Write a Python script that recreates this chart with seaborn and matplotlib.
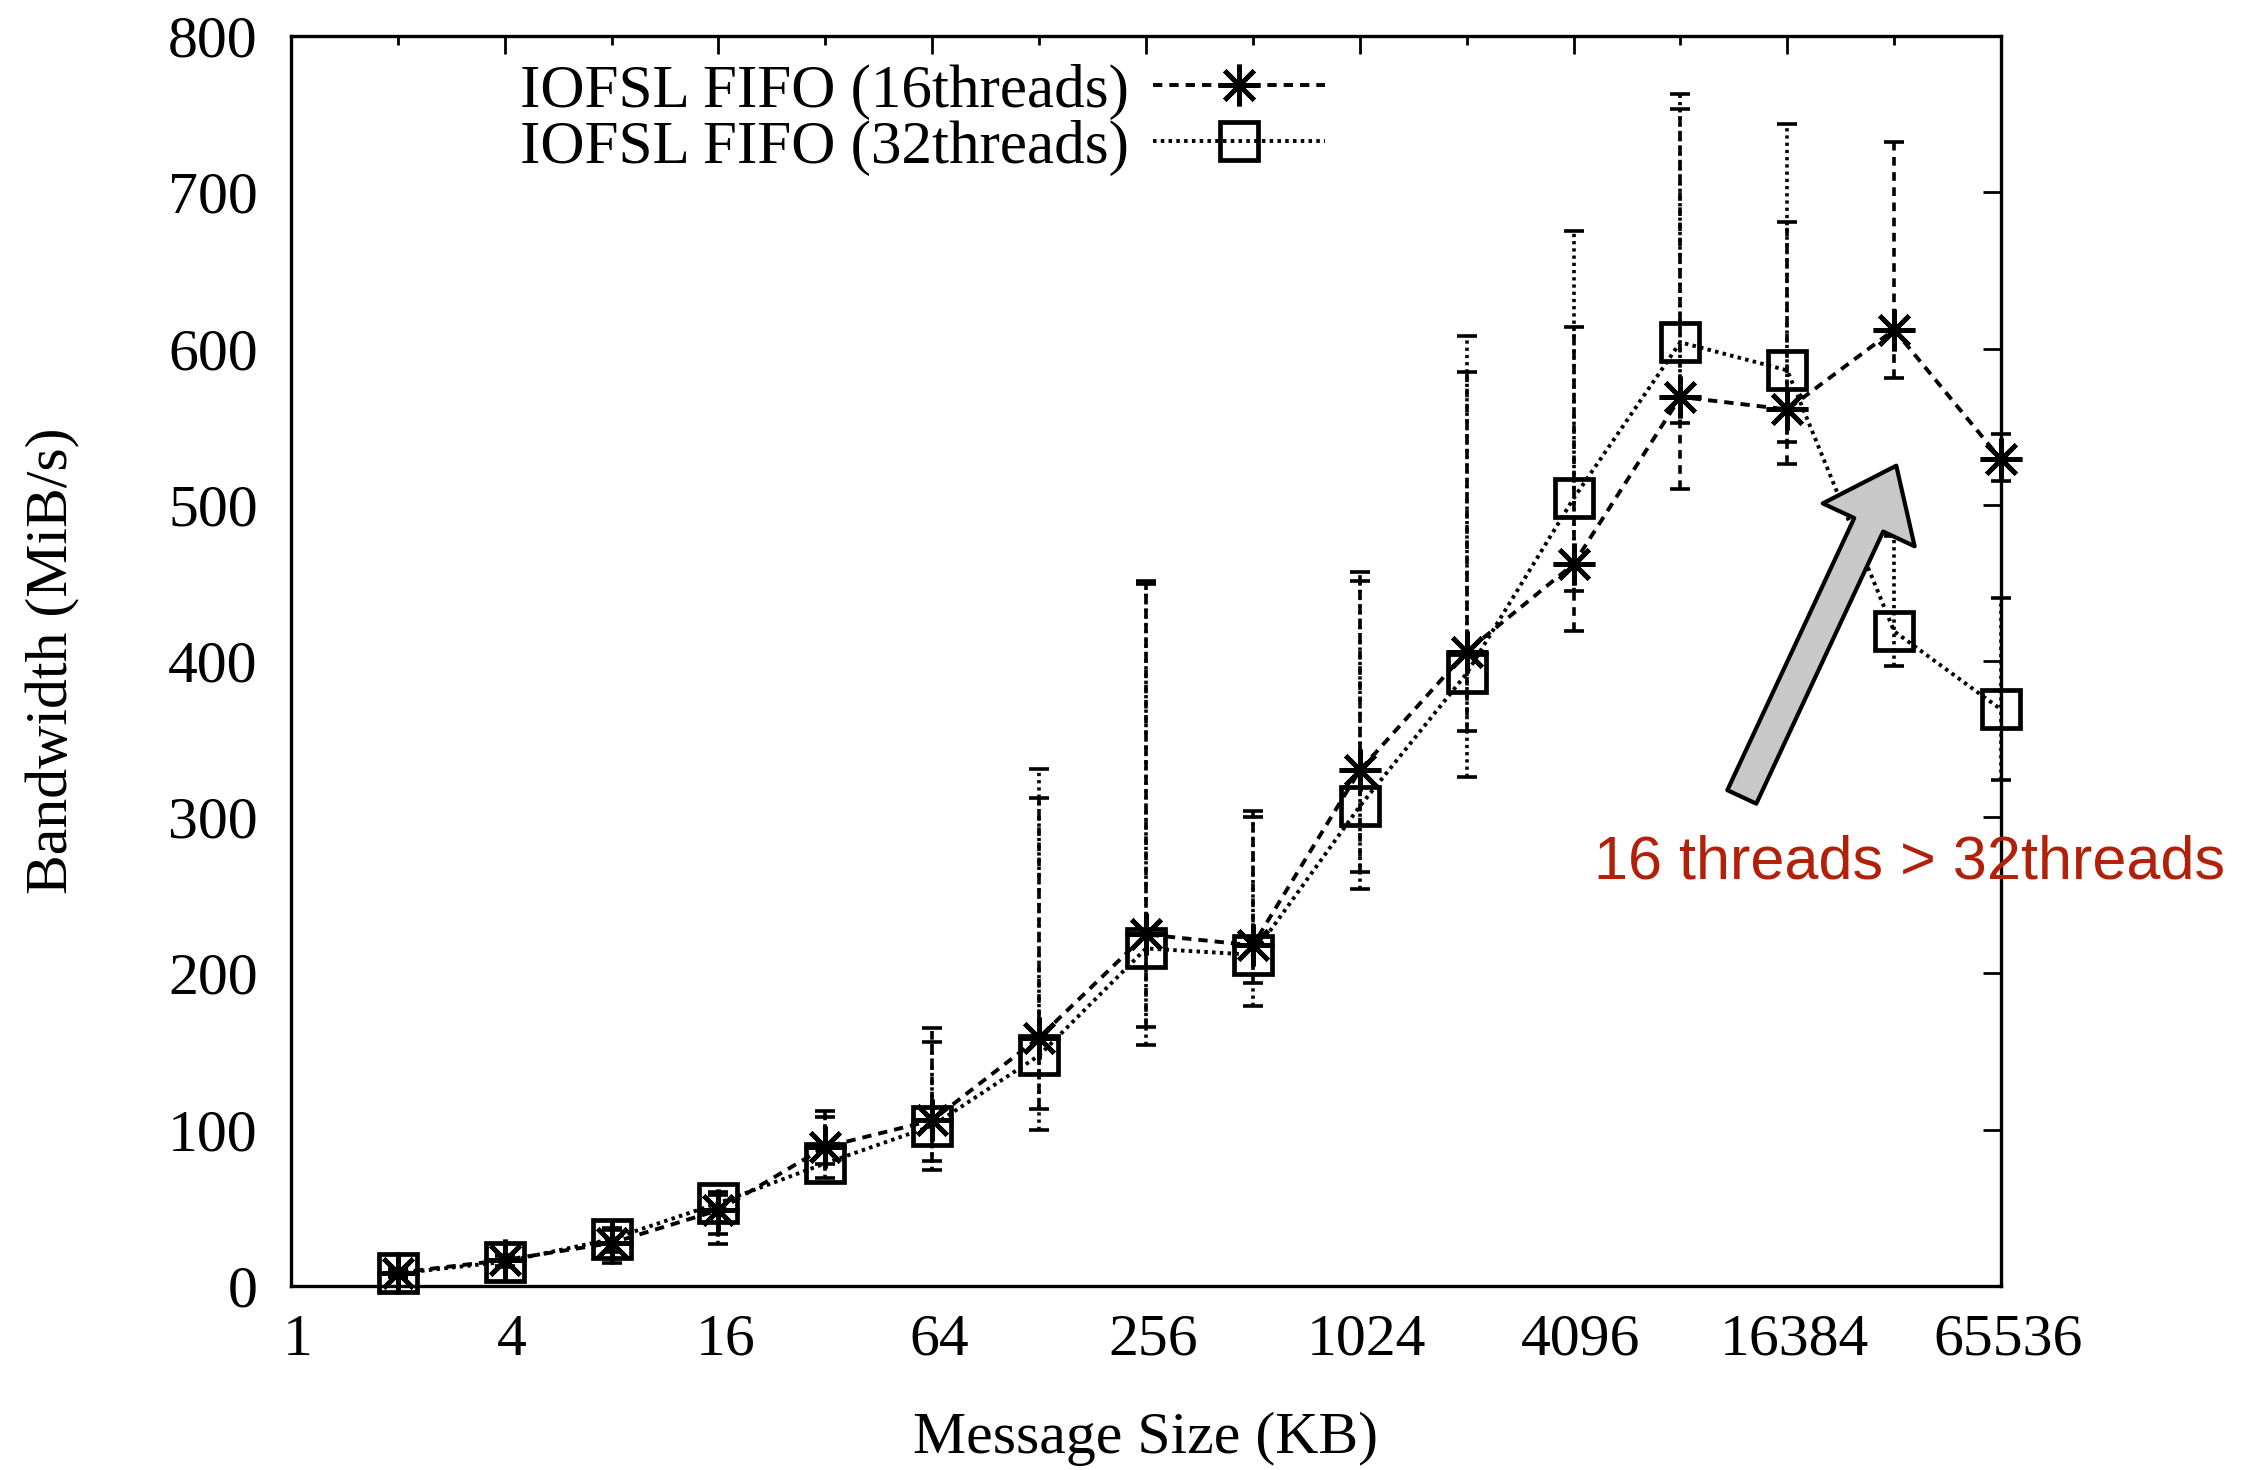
import numpy as np
import matplotlib
matplotlib.use("Agg")
import matplotlib.pyplot as plt
import matplotlib.ticker as mticker
import matplotlib.transforms as mtrans
from matplotlib.lines import Line2D
import seaborn as sns

# message sizes (KB) and measured bandwidth (MiB/s)
sizes = [2, 4, 8, 16, 32, 64, 128, 256, 512, 1024, 2048, 4096, 8192, 16384, 32768, 65536]
bw16 = [8.5, 16.6, 27.5, 48.5, 89, 106, 159, 225, 218, 330, 406, 462, 569, 561, 612, 529]
bw32 = [8, 15.5, 30, 53, 78.5, 102.5, 147.5, 216, 212, 307, 392, 504, 604, 586, 419, 369]

# min / max of the runs
lo16 = [6, 13, 22, 33, 78, 80, 113, 166, 194, 265, 355, 419, 510, 526, 581, 515]
hi16 = [11, 20, 37, 60, 112, 165, 312, 451, 304, 457, 585, 614, 753, 681, 732, 545]
lo32 = [6, 12, 15, 27, 69, 74, 100, 154, 179, 254, 326, 445, 552, 540, 397, 324]
hi32 = [10, 19, 36, 58, 108, 156, 331, 449, 300, 451, 608, 675, 763, 744, 480, 440]

labels = ["IOFSL FIFO (16threads)", "IOFSL FIFO (32threads)"]
xticks = [1, 4, 16, 64, 256, 1024, 4096, 16384, 65536]
yticks = list(range(0, 801, 100))
note = "16 threads > 32threads"

sns.set_theme(style="white")
plt.rcParams["font.family"] = ["Liberation Serif", "DejaVu Serif"]
plt.rcParams["text.color"] = "black"
plt.rcParams["axes.labelcolor"] = "black"

DASH = (0, (2.4, 1.8))
DOT = (0, (0.9, 1.1))
STAR = (8, 2, 0)

fig, ax = plt.subplots(figsize=(22.59, 14.7), dpi=100)
fig.subplots_adjust(left=0.1288, right=0.8858, top=0.9755, bottom=0.1252)


def draw_series(y, lo, hi, ls, marker, ms):
    y = np.array(y)
    err = [y - np.array(lo), np.array(hi) - y]
    eb = ax.errorbar(sizes, y, yerr=err, fmt="none", ecolor="black",
                     elinewidth=2.6, capsize=7, capthick=2.6)
    for lc in eb[2]:
        lc.set_linestyle(ls)
        lc.set_clip_on(False)
    for cap in eb[1]:
        cap.set_clip_on(False)
    sns.lineplot(x=sizes, y=y, ax=ax, color="black", linewidth=2.8,
                 linestyle=ls, marker=marker, markersize=ms,
                 markerfacecolor="none", markeredgecolor="black",
                 markeredgewidth=3.4, legend=False, clip_on=False)


draw_series(bw16, lo16, hi16, DASH, STAR, 30)
draw_series(bw32, lo32, hi32, DOT, "s", 27)

ax.set_xscale("log", base=2)
ax.set_xlim(1, 65536)
ax.set_ylim(0, 800)
ax.xaxis.set_major_locator(mticker.FixedLocator(xticks))
ax.xaxis.set_minor_locator(mticker.FixedLocator([2 ** k for k in range(1, 16, 2)]))
ax.xaxis.set_major_formatter(mticker.FixedFormatter([str(v) for v in xticks]))
ax.xaxis.set_minor_formatter(mticker.NullFormatter())
ax.set_yticks(yticks)
ax.set_yticklabels([str(v) for v in yticks])

ax.tick_params(which="both", direction="in", top=True, right=True,
               width=2, colors="black", labelsize=43)
ax.tick_params(which="major", length=13)
ax.tick_params(which="minor", length=6.5)
ax.tick_params(axis="x", which="major", pad=20)
ax.tick_params(axis="y", which="major", pad=24)
shift = mtrans.ScaledTranslation(7 / 100, 0, fig.dpi_scale_trans)
for lab in ax.get_xticklabels():
    lab.set_transform(lab.get_transform() + shift)
for sp in ax.spines.values():
    sp.set_linewidth(2.4)
    sp.set_color("black")
    sp.set_zorder(1)

ax.set_xlabel("Message Size (KB)", fontsize=43)
ax.set_ylabel("Bandwidth (MiB/s)", fontsize=43)
ax.xaxis.set_label_coords(0.5, -0.101)
ax.yaxis.set_label_coords(-0.123, 0.5)

handles = [
    Line2D([], [], color="black", lw=2.8, linestyle=DASH, marker=STAR,
           markersize=30, markerfacecolor="none", markeredgewidth=3.4),
    Line2D([], [], color="black", lw=2.8, linestyle=DOT, marker="s",
           markersize=27, markerfacecolor="none", markeredgewidth=3.4),
]
ax.legend(handles, labels, loc="upper left", bbox_to_anchor=(0.134, 0.978),
          frameon=False, markerfirst=False, fontsize=44, numpoints=1,
          handlelength=2.8, handletextpad=0.4, labelspacing=0.0,
          borderpad=0, borderaxespad=0)

ax.annotate("", xy=(2 ** 15.02, 525), xytext=(2 ** 13.575, 313),
            arrowprops=dict(arrowstyle="simple,head_length=4.7,head_width=7.3,tail_width=2.3",
                            mutation_scale=10, fc="#c8c8c8", ec="black", lw=3,
                            shrinkA=0, shrinkB=0))
ax.text(2 ** 15.145, 271, note, ha="center", va="center", color="#b3200a",
        fontsize=44, family=["Liberation Sans", "DejaVu Sans"], clip_on=False)

fig.savefig("out.png", dpi=100)
